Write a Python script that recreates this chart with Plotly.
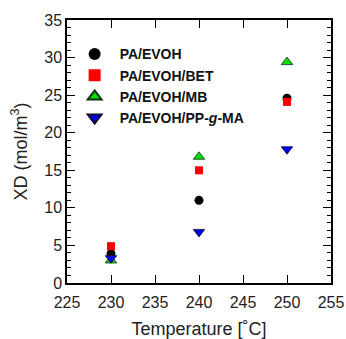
import plotly.graph_objects as go

# Measured XD values at each processing temperature
temperature = [230, 240, 250]
pa_evoh = [3.9, 11.0, 24.6]
pa_evoh_bet = [4.9, 15.0, 24.1]
pa_evoh_mb = [3.0, 16.8, 29.4]
pa_evoh_ppgma = [3.3, 6.8, 17.8]

series_names = ["PA/EVOH", "PA/EVOH/BET", "PA/EVOH/MB", "PA/EVOH/PP-<i>g</i>-MA"]
x_ticks = [225, 230, 235, 240, 245, 250, 255]
y_ticks = [0, 5, 10, 15, 20, 25, 30, 35]

FONT = "Liberation Sans, Arial, sans-serif"

fig = go.Figure()
fig.add_trace(go.Scatter(
    x=temperature, y=pa_evoh, mode="markers", name=series_names[0],
    marker=dict(symbol="circle", size=9, color="black", line=dict(width=0)),
))
fig.add_trace(go.Scatter(
    x=temperature, y=pa_evoh_bet, mode="markers", name=series_names[1],
    marker=dict(symbol="square", size=8, color="#ff0000", line=dict(width=0)),
))
fig.add_trace(go.Scatter(
    x=temperature, y=pa_evoh_mb, mode="markers", name=series_names[2],
    marker=dict(symbol="triangle-up", size=10, color="#00dd00",
                line=dict(width=0.8, color="#103010")),
))
fig.add_trace(go.Scatter(
    x=temperature, y=pa_evoh_ppgma, mode="markers", name=series_names[3],
    marker=dict(symbol="triangle-down", size=10, color="#0000ee",
                line=dict(width=0.8, color="#101030")),
))

axis_common = dict(
    showline=True, linecolor="black", linewidth=1.5, mirror="ticks",
    ticks="inside", tickcolor="black", tickwidth=1.3, ticklen=8,
    showgrid=False, zeroline=False, automargin=False,
    tickfont=dict(family=FONT, size=16, color="#222222"),
)

fig.update_xaxes(
    range=[225, 255], tickvals=x_ticks, ticktext=[str(v) for v in x_ticks],
    ticklabelstandoff=4,
    title=dict(text="Temperature [˚C]", font=dict(family=FONT, size=18, color="#222222"),
               standoff=16),
    **axis_common,
)
fig.update_yaxes(
    range=[0, 35], tickvals=y_ticks, ticktext=[str(v) for v in y_ticks],
    minor=dict(dtick=1, ticks="inside", ticklen=4, tickcolor="black", tickwidth=1.1),
    title=dict(text="XD (mol/m<sup>3</sup>)", font=dict(family=FONT, size=18, color="#222222"),
               standoff=12),
    **axis_common,
)

fig.update_layout(
    width=346, height=339,
    margin=dict(l=67, r=15, t=20, b=56),
    plot_bgcolor="white", paper_bgcolor="white",
    legend=dict(
        x=0.01, y=0.93, xanchor="left", yanchor="top",
        bgcolor="rgba(0,0,0,0)", borderwidth=0,
        font=dict(family=FONT, size=14, color="#111111", weight="bold"),
        itemsizing="constant", itemwidth=40, tracegroupgap=0,
    ),
)

fig.write_html("out.html")
